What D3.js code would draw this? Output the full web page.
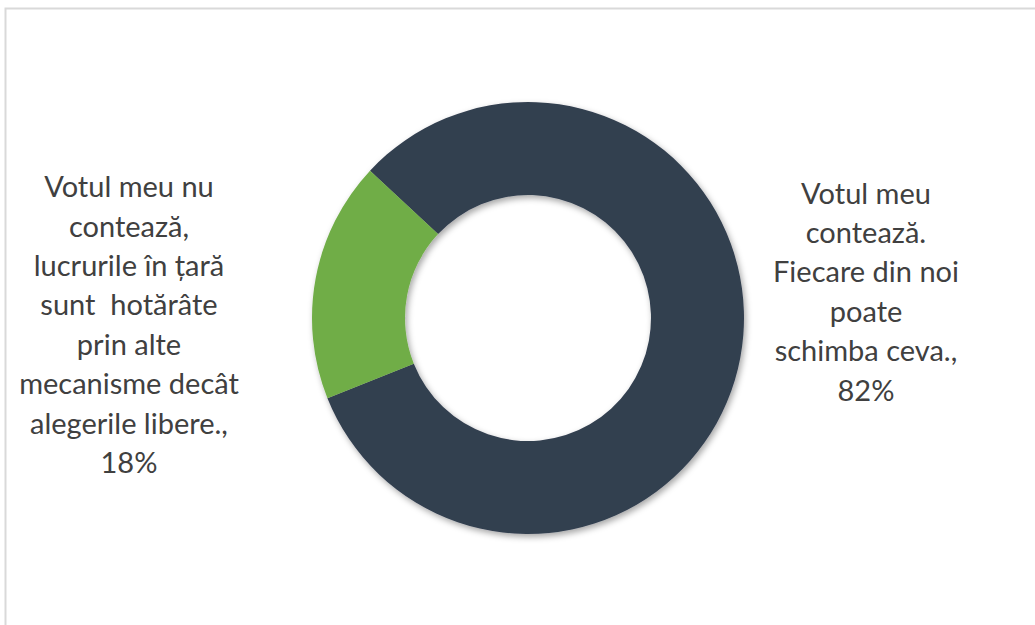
<!DOCTYPE html>
<html>
<head>
<meta charset="utf-8">
<script src="https://cdn.jsdelivr.net/npm/d3@7"></script>
<style>
  body { margin: 0; background: #fff; }
</style>
</head>
<body>
<div id="chart"></div>
<script>
// data
var categories = [
    "Votul meu contează. Fiecare din noi poate schimba ceva.",
    "Votul meu nu contează, lucrurile în țară sunt  hotărâte prin alte mecanisme decât alegerile libere."
]
var values = [82, 18]
var sliceColors = ["#333F50", "#70AD47"]
var labelLines = [
    ["Votul meu", "contează.", "Fiecare din noi", "poate", "schimba ceva.,", "82%"],
    ["Votul meu nu", "contează,", "lucrurile în țară", "sunt  hotărâte", "prin alte", "mecanisme decât", "alegerile libere.,", "18%"]
]

var width = 1035
height = 625
var cx = 528, cy = 318
var outerR = 216, innerR = 123

var svg = d3.select("#chart")
    .append("svg")
    .attr("width", width)
    .attr("height", height)

// chart area border (cut off on right and bottom like the picture)
svg.append("rect")
    .attr("x", 5.5)
    .attr("y", 8.5)
    .attr("width", width + 20)
    .attr("height", height + 20)
    .attr("fill", "#fff")
    .attr("stroke", "#d9d9d9")
    .attr("stroke-width", 2)

var defs = svg.append("defs")
var filter = defs.append("filter")
    .attr("id", "shadow")
    .attr("x", "-20%").attr("y", "-20%")
    .attr("width", "140%").attr("height", "140%")
filter.append("feDropShadow")
    .attr("dx", 2)
    .attr("dy", 3)
    .attr("stdDeviation", 3)
    .attr("flood-color", "#000")
    .attr("flood-opacity", 0.35)

var g = svg.append("g")
    .attr("transform", "translate(" + cx + "," + cy + ")")

var startDeg = -47
var pie = d3.pie()
    .sort(null)
    .value(function (d) { return d; })
    .startAngle(startDeg * Math.PI / 180)
    .endAngle((startDeg + 360) * Math.PI / 180)
var data_ready = pie(values)

var arcGenerator = d3.arc()
    .innerRadius(innerR)
    .outerRadius(outerR)

g.append("g")
    .attr("filter", "url(#shadow)")
    .selectAll("path")
    .data(data_ready)
    .enter()
    .append("path")
    .attr("d", arcGenerator)
    .attr("fill", function (d, i) { return sliceColors[i]; })

// labels
var labelPos = [
    { x: 866, y: 292 },
    { x: 129, y: 325 }
]
var lineH = 39.4

labelLines.forEach(function (lines, i) {
    var top = labelPos[i].y - (lines.length - 1) * lineH / 2
    var t = svg.append("text")
        .attr("text-anchor", "middle")
        .attr("font-family", "Lato, 'Open Sans', sans-serif")
        .attr("font-size", 29)
        .attr("fill", "#404040")
    lines.forEach(function (line, j) {
        t.append("tspan")
            .attr("x", labelPos[i].x)
            .attr("y", top + j * lineH)
            .attr("dy", "0.35em")
            .attr("xml:space", "preserve")
            .style("white-space", "pre")
            .text(line)
    })
})
</script>
</body>
</html>
